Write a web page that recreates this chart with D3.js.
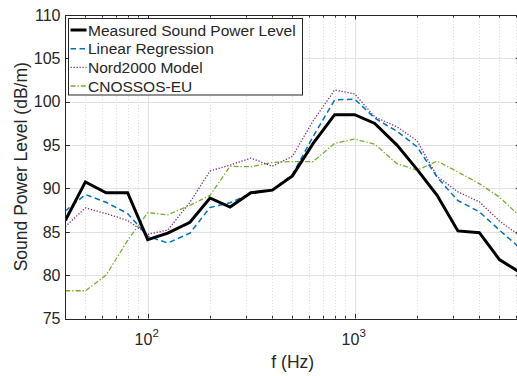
<!DOCTYPE html>
<html>
<head>
<meta charset="utf-8">
<script src="https://cdn.jsdelivr.net/npm/d3@7"></script>
<style>
  body { margin: 0; background: #fff; }
  text { font-family: "Liberation Sans", Arial, Helvetica, sans-serif; fill: #262626; }
</style>
</head>
<body>
<div id="chart"></div>
<script>
"use strict";

// third-octave band centre frequencies (Hz)
var freqs = [40, 50, 63, 80, 100, 125, 160, 200, 250, 315, 400, 500, 630, 800, 1000, 1250, 1600, 2000, 2500, 3150, 4000, 5000, 6300];

var measured = [86.3, 90.75, 89.5, 89.5, 84.1, 84.85, 86.1, 88.9, 87.85, 89.5, 89.8, 91.45, 95.2, 98.5, 98.5, 97.5, 95.0, 92.2, 89.2, 85.1, 84.9, 81.8, 80.3];
var linreg   = [87.4, 89.3, 88.4, 87.1, 84.5, 83.7, 84.85, 87.8, 88.35, 89.4, 89.85, 91.6, 96.0, 100.2, 100.3, 98.1, 96.6, 94.8, 91.3, 88.6, 87.3, 85.2, 83.1];
var nord2000 = [85.6, 87.75, 87.1, 86.3, 84.7, 85.2, 88.4, 92.0, 92.7, 93.5, 92.55, 93.7, 97.8, 101.35, 100.9, 98.25, 97.1, 95.5, 91.4, 89.6, 88.45, 86.25, 84.5];
var cnossos  = [78.2, 78.2, 80.0, 84.0, 87.2, 86.95, 88.05, 89.2, 92.55, 92.5, 93.0, 93.1, 93.1, 95.2, 95.7, 95.1, 92.85, 92.1, 93.15, 91.9, 90.55, 89.0, 86.75];

var seriesNames = ["Measured Sound Power Level", "Linear Regression", "Nord2000 Model", "CNOSSOS-EU"];

var yTicks = [75, 80, 85, 90, 95, 100, 105, 110];
var xMajor = [100, 1000];
var xMinor = [40, 50, 60, 70, 80, 90, 200, 300, 400, 500, 600, 700, 800, 900, 2000, 3000, 4000, 5000, 6000];

var width = 517;
var height = 376;
var margin = {top: 15, left: 65.3, bottom: 318.5, right: 520.2};

var svg = d3.select("#chart").append("svg")
	.attr("width", width)
	.attr("height", height);

var x = d3.scaleLog()
	.domain([40, 6300])
	.range([margin.left, margin.right]);

var y = d3.scaleLinear()
	.domain([75, 110])
	.range([margin.bottom, margin.top]);

svg.append("clipPath").attr("id", "plotclip")
	.append("rect")
	.attr("x", margin.left).attr("y", margin.top)
	.attr("width", margin.right - margin.left)
	.attr("height", margin.bottom - margin.top);

// grid
svg.append("g").selectAll("line")
	.data(xMinor)
	.enter().append("line")
	.attr("x1", function(d) { return Math.round(x(d)) + 0.5; })
	.attr("x2", function(d) { return Math.round(x(d)) + 0.5; })
	.attr("y1", margin.top).attr("y2", margin.bottom)
	.attr("stroke", "#d4d4d4")
	.attr("stroke-width", 0.8)
	.attr("stroke-dasharray", "1,2");

svg.append("g").selectAll("line")
	.data(xMajor)
	.enter().append("line")
	.attr("x1", function(d) { return Math.round(x(d)) + 0.5; })
	.attr("x2", function(d) { return Math.round(x(d)) + 0.5; })
	.attr("y1", margin.top).attr("y2", margin.bottom)
	.attr("stroke", "#e2e2e2");

svg.append("g").selectAll("line")
	.data(yTicks)
	.enter().append("line")
	.attr("x1", margin.left).attr("x2", margin.right)
	.attr("y1", function(d) { return Math.round(y(d)) + 0.5; })
	.attr("y2", function(d) { return Math.round(y(d)) + 0.5; })
	.attr("stroke", "#e2e2e2");

// series
var series = [
	{values: measured, color: "#000000", w: 3,   dash: null},
	{values: linreg,   color: "#0072BD", w: 1.5, dash: "5.5,3.5"},
	{values: nord2000, color: "#7E2F8E", w: 1.3, dash: "1.3,1.7"},
	{values: cnossos,  color: "#77AC30", w: 1.3, dash: "5,2,1.3,2"}
];

var line = d3.line()
	.x(function(d) { return x(d.f); })
	.y(function(d) { return y(d.v); });

var plot = svg.append("g").attr("clip-path", "url(#plotclip)");

series.slice().reverse().forEach(function(s) {
	var pts = freqs.map(function(f, i) { return {f: f, v: s.values[i]}; });
	plot.append("path")
		.datum(pts)
		.attr("fill", "none")
		.attr("stroke", s.color)
		.attr("stroke-width", s.w)
		.attr("stroke-linejoin", "miter")
		.attr("stroke-dasharray", s.dash)
		.attr("d", line);
});

// axes box
var axisColor = "#262626";
svg.append("rect")
	.attr("x", Math.round(margin.left) + 0.5)
	.attr("y", Math.round(margin.top) + 0.5)
	.attr("width", Math.round(margin.right - margin.left))
	.attr("height", Math.round(margin.bottom - margin.top))
	.attr("fill", "none")
	.attr("stroke", axisColor)
	.attr("stroke-width", 1);

var ticks = svg.append("g").attr("stroke", axisColor).attr("stroke-width", 1);

yTicks.forEach(function(d) {
	var yy = Math.round(y(d)) + 0.5;
	ticks.append("line").attr("x1", margin.left).attr("x2", margin.left + 4.5).attr("y1", yy).attr("y2", yy);
	ticks.append("line").attr("x1", margin.right).attr("x2", margin.right - 4.5).attr("y1", yy).attr("y2", yy);
});

xMajor.concat(xMinor).forEach(function(d) {
	var xx = Math.round(x(d)) + 0.5;
	var len = xMajor.indexOf(d) >= 0 ? 4.5 : 2.5;
	ticks.append("line").attr("x1", xx).attr("x2", xx).attr("y1", margin.bottom).attr("y2", margin.bottom - len);
	ticks.append("line").attr("x1", xx).attr("x2", xx).attr("y1", margin.top).attr("y2", margin.top + len);
});

// tick labels
svg.append("g").selectAll("text")
	.data(yTicks)
	.enter().append("text")
	.attr("x", 60.5)
	.attr("y", function(d) { return y(d); })
	.attr("dy", "0.36em")
	.attr("text-anchor", "end")
	.style("font-size", "16px")
	.text(function(d) { return d; });

var xl = svg.append("g").selectAll("text")
	.data(xMajor)
	.enter().append("text")
	.attr("x", function(d) { return x(d) - 1; })
	.attr("y", 345)
	.attr("text-anchor", "middle")
	.style("font-size", "16px");
xl.append("tspan").text("10");
xl.append("tspan")
	.attr("dy", -8)
	.style("font-size", "11.5px")
	.text(function(d) { return Math.round(Math.log10(d)); });

// axis titles
svg.append("text")
	.attr("x", (margin.left + margin.right) / 2)
	.attr("y", 368)
	.attr("text-anchor", "middle")
	.style("font-size", "17.5px")
	.text("f (Hz)");

svg.append("text")
	.attr("transform", "translate(26.5," + ((margin.top + margin.bottom) / 2) + ") rotate(-90)")
	.attr("text-anchor", "middle")
	.style("font-size", "17.5px")
	.text("Sound Power Level (dB/m)");

// legend
var legend = svg.append("g");
legend.append("rect")
	.attr("x", 68.5).attr("y", 18.5)
	.attr("width", 234).attr("height", 76.5)
	.attr("fill", "#fff")
	.attr("stroke", axisColor)
	.attr("stroke-width", 1);

var legendY = [30, 48.7, 67.3, 86];
series.forEach(function(s, i) {
	legend.append("line")
		.attr("x1", 70.5).attr("x2", 86.5)
		.attr("y1", legendY[i]).attr("y2", legendY[i])
		.attr("stroke", s.color)
		.attr("stroke-width", s.w)
		.attr("stroke-dasharray", s.dash);
	legend.append("text")
		.attr("x", 88)
		.attr("y", legendY[i])
		.attr("dy", "0.36em")
		.style("font-size", "15.5px")
		.text(seriesNames[i]);
});
</script>
</body>
</html>
